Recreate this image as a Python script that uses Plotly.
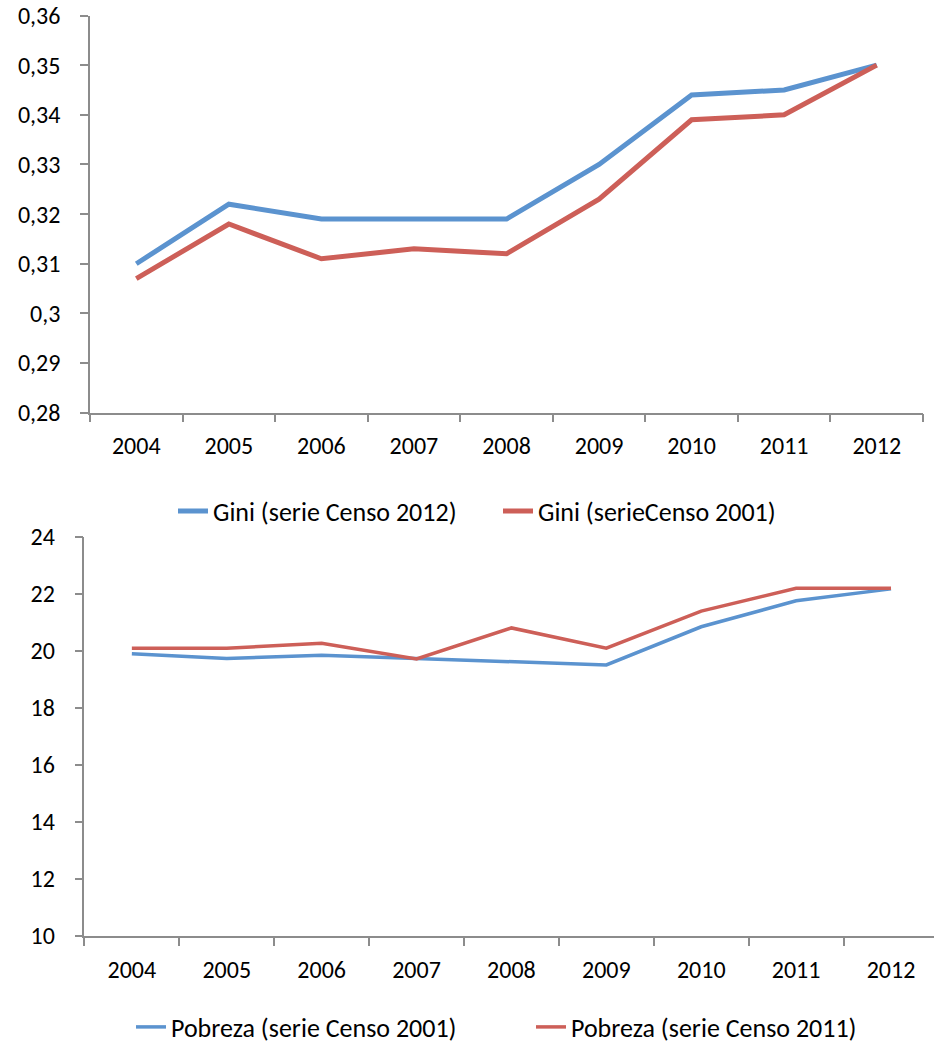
import plotly.graph_objects as go

years = ["2004", "2005", "2006", "2007", "2008", "2009", "2010", "2011", "2012"]

gini_censo_2012 = [0.310, 0.322, 0.319, 0.319, 0.319, 0.330, 0.344, 0.345, 0.350]
gini_censo_2001 = [0.307, 0.318, 0.311, 0.313, 0.312, 0.323, 0.339, 0.340, 0.350]

pobreza_censo_2001 = [19.90, 19.74, 19.85, 19.73, 19.64, 19.51, 20.85, 21.76, 22.18]
pobreza_censo_2011 = [20.10, 20.10, 20.27, 19.72, 20.81, 20.10, 21.40, 22.20, 22.20]

gini_ticks = [0.28, 0.29, 0.30, 0.31, 0.32, 0.33, 0.34, 0.35, 0.36]
pobreza_ticks = [10, 12, 14, 16, 18, 20, 22, 24]

BLUE = "#5B93CF"
RED = "#CD5F58"
AXIS = "#8C8C8C"
FONT = "Carlito, Calibri, Lato, sans-serif"
FS = 24   # tick labels
LFS = 26  # legend

W, H = 934, 1045

fig = go.Figure()

fig.add_trace(go.Scatter(x=years, y=gini_censo_2012, name="Gini (serie Censo 2012)",
                         mode="lines", line=dict(color=BLUE, width=5),
                         xaxis="x", yaxis="y", legend="legend"))
fig.add_trace(go.Scatter(x=years, y=gini_censo_2001, name="Gini (serieCenso 2001)",
                         mode="lines", line=dict(color=RED, width=5),
                         xaxis="x", yaxis="y", legend="legend"))
fig.add_trace(go.Scatter(x=years, y=pobreza_censo_2001, name="Pobreza (serie Censo 2001)",
                         mode="lines", line=dict(color=BLUE, width=3.5),
                         xaxis="x2", yaxis="y2", legend="legend2"))
fig.add_trace(go.Scatter(x=years, y=pobreza_censo_2011, name="Pobreza (serie Censo 2011)",
                         mode="lines", line=dict(color=RED, width=3.5),
                         xaxis="x2", yaxis="y2", legend="legend2"))

xcommon = dict(type="category", showgrid=False, zeroline=False, showline=True,
               linecolor=AXIS, linewidth=1.5, ticks="outside", tickson="boundaries",
               ticklen=8, tickcolor=AXIS, tickwidth=1.5, ticklabelstandoff=11,
               automargin=False, ticklabeloverflow="allow",
               tickfont=dict(size=FS, color="#000000"))
ycommon = dict(showgrid=False, zeroline=False, showline=True, linecolor=AXIS,
               linewidth=1.5, ticks="outside", ticklen=8, tickcolor=AXIS,
               tickwidth=1.5, ticklabelstandoff=15, automargin=False,
               ticklabeloverflow="allow", tickfont=dict(size=FS, color="#000000"))

fig.update_layout(
    width=W, height=H,
    margin=dict(l=0, r=0, t=0, b=0, autoexpand=False),
    paper_bgcolor="white", plot_bgcolor="white",
    font=dict(family=FONT, size=FS, color="#000000"),
    xaxis=dict(xcommon, domain=[90 / W, 923 / W], anchor="y", range=[-0.5, 8.5]),
    yaxis=dict(ycommon, domain=[1 - 412.7 / H, 1 - 15.5 / H], anchor="x",
               range=[0.28, 0.36], tickvals=gini_ticks,
               ticktext=[f"{v:g}".replace(".", ",") for v in gini_ticks]),
    xaxis2=dict(xcommon, domain=[84.4 / W, 1.0], anchor="y2", range=[-0.5, 8.453]),
    yaxis2=dict(ycommon, domain=[1 - 936 / H, 1 - 537 / H], anchor="x2",
                range=[10, 24], tickvals=pobreza_ticks),
    legend=dict(orientation="h", x=173 / W, xanchor="left", y=1 - 511 / H,
                yanchor="middle", entrywidth=280, entrywidthmode="pixels",
                font=dict(size=LFS), bgcolor="rgba(0,0,0,0)"),
    legend2=dict(orientation="h", x=131 / W, xanchor="left", y=1 - 1027 / H,
                 yanchor="middle", entrywidth=355, entrywidthmode="pixels",
                 font=dict(size=LFS), bgcolor="rgba(0,0,0,0)"),
)

# drop the page's default body margin so the figure fills the window
fig.write_html("out.html", config={"displayModeBar": False},
               post_script="document.body.style.margin = '0px';")
